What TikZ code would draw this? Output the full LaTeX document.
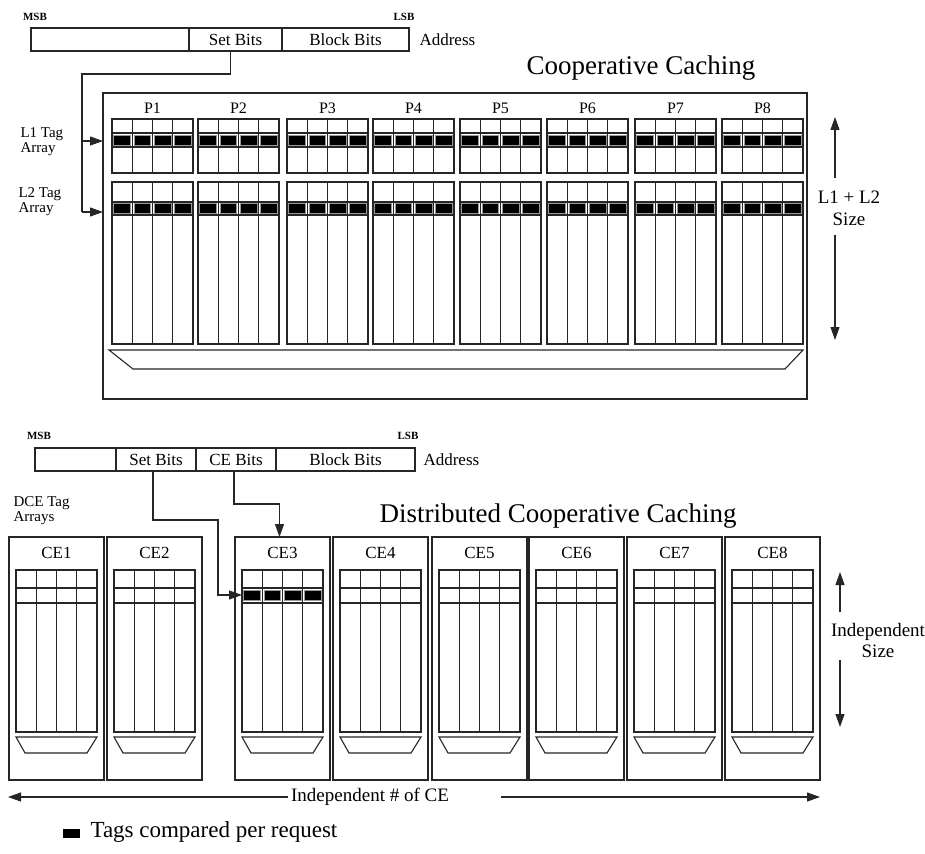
\documentclass[tikz,border=0pt]{standalone}
\usepackage{fontspec}
\setmainfont{Liberation Serif}
\usetikzlibrary{arrows.meta,calc}
\newcommand\myfs[1]{\fontsize{#1}{#1}\selectfont}
\tikzset{
  ln/.style={draw=black!85, line width=1.1pt},
  box/.style={ln, rectangle, inner sep=0pt, outer sep=0pt, anchor=north west},
  tagsq/.style={fill=black, draw=black!40, line width=0.8pt},
  arr/.style={ln, -{Triangle[length=13pt,width=9pt]}},
  fld/.style={ln, rectangle, inner sep=0pt, outer sep=0pt, minimum height=23pt, anchor=north west, font=\myfs{17}},
  small/.style={font=\bfseries\myfs{11}},
  lab/.style={font=\myfs{15}, align=left, anchor=west},
  title/.style={font=\myfs{27}},
}
\begin{document}
\begin{tikzpicture}[x=1pt,y=-1pt]
\useasboundingbox (0,0) rectangle (925,853);

% ---------- top address ----------
\node[small] (msb1) at (35,17) {MSB};
\node[small] (lsb1) at (404,17) {LSB};
\node[fld, minimum width=158pt] (f1) at (31,28) {};
\node[fld, minimum width=93pt] (sb1) at (189,28) {Set Bits};
\node[fld, minimum width=127pt] (bb1) at (282,28) {Block Bits};
\node[font=\myfs{17}, anchor=west] (ad1) at (416,40) {Address};

\node[title] (t1) at (641,68) {Cooperative Caching};

% ---------- cooperative caching ----------
\node[box, minimum width=704pt, minimum height=306pt] (coop) at (103,93) {};
\foreach \x [count=\i] in {112,198,287,373,460,547,635,722} {
  \node[font=\myfs{16}] (p\i) at (\x+40.5,108) {P\i};
  \node[box, minimum width=81pt, minimum height=54pt] (l1p\i) at (\x,119) {};
  \node[box, minimum width=81pt, minimum height=162pt] (l2p\i) at (\x,182) {};
  \draw[ln] (\x,133) -- ++(81,0) (\x,147) -- ++(81,0);
  \draw[ln] (\x,202) -- ++(81,0) (\x,215) -- ++(81,0);
  \foreach \c in {1,2,3} {
    \draw[ln] (\x+20.25*\c,119) -- ++(0,54);
    \draw[ln] (\x+20.25*\c,182) -- ++(0,162);
  }
  \foreach \c in {0,1,2,3} {
    \draw[tagsq] (\x+20.25*\c+1.8,135.2) rectangle ++(16.6,10.2);
    \draw[tagsq] (\x+20.25*\c+1.8,203.7) rectangle ++(16.6,9.6);
  }
}
\draw[ln] (109,350) -- (803,350) -- (785,369) -- (133,369) -- cycle;

\node[lab] (l1lab) at (17,142) {L1 Tag\\ Array};
\node[lab] (l2lab) at (15,202) {L2 Tag\\Array};

\coordinate (bus) at (82,74);
\coordinate (l1y) at (82,141);
\coordinate (l2y) at (82,212);
\draw[ln] ([xshift=-5pt]sb1.south) |- (bus) -- (l2y);
\draw[arr] (l1y) -- (coop.west |- l1y);
\draw[arr] (l2y) -- (coop.west |- l2y);

\coordinate (s1a) at (835,178);
\coordinate (s1t) at (835,117);
\coordinate (s1b) at (835,235);
\coordinate (s1d) at (835,340);
\draw[arr] (s1a) -- (s1t);
\draw[arr] (s1b) -- (s1d);
\node[font=\myfs{19}, align=center] (s1lab) at (849,208) {L1 + L2\\[3pt]Size};

% ---------- bottom address ----------
\node[small] (msb2) at (39,436) {MSB};
\node[small] (lsb2) at (408,436) {LSB};
\node[fld, minimum width=81pt] (f2) at (35,448) {};
\node[fld, minimum width=80pt] (sb2) at (116,448) {Set Bits};
\node[fld, minimum width=80pt] (ceb2) at (196,448) {CE Bits};
\node[fld, minimum width=139pt] (bb2) at (276,448) {Block Bits};
\node[font=\myfs{17}, anchor=west] (ad2) at (420,460) {Address};

\node[lab] (dcelab) at (10,511) {DCE Tag\\Arrays};
\node[title] (t2) at (558,516) {Distributed Cooperative Caching};

% ---------- distributed ----------
\foreach \x [count=\i] in {9,107,235,333,432,529,627,725} {
  \node[box, minimum width=95pt, minimum height=243pt] (ce\i) at (\x,537) {};
  \node[font=\myfs{17}] (cel\i) at (\x+47.5,553) {CE\i};
  \node[box, minimum width=81pt, minimum height=162pt] (cea\i) at (\x+7,570) {};
  \draw[ln] (\x+7,588) -- ++(81,0) (\x+7,603) -- ++(81,0);
  \foreach \c in {1,2,3}
    \draw[ln] (\x+7+20.25*\c,570) -- ++(0,162);
  \draw[ln] (\x+7,737) -- (\x+88,737) -- (\x+78,753) -- (\x+16,753) -- cycle;
}
\foreach \c in {0,1,2,3}
  \draw[tagsq] (242+20.25*\c+1.8,590.2) rectangle ++(16.6,10.6);

\coordinate (c1) at (218,520);
\coordinate (c2) at (218,595);
\draw[arr] ([xshift=-3pt]sb2.south) |- (c1) -- (c2) -- (cea3.west |- c2);
\draw[arr] ([xshift=-2pt]ceb2.south) |- ($(ce3.north)+(-3,-33)$) -- ([xshift=-3pt]ce3.north);

\coordinate (s2a) at (840,612);
\coordinate (s2t) at (840,572);
\coordinate (s2b) at (840,660);
\coordinate (s2d) at (840,727);
\draw[arr] (s2a) -- (s2t);
\draw[arr] (s2b) -- (s2d);
\node[font=\myfs{19}, align=center] (s2lab) at (878,640) {Independent\\[2pt]Size};

\node[font=\myfs{19}] (ind) at (370,797) {Independent \# of CE};
\coordinate (il) at (8,797);
\coordinate (ir0) at (501,797);
\coordinate (ir) at (820,797);
\draw[arr] (ind.west) -- (il);
\draw[arr] (ir0) -- (ir);

\node[fill=black, minimum width=17pt, minimum height=9pt, inner sep=0pt] (legsq) at (71.5,833.5) {};
\node[font=\myfs{23}, anchor=west] (leg) at (87,832) {Tags compared per request};
\end{tikzpicture}
\end{document}
